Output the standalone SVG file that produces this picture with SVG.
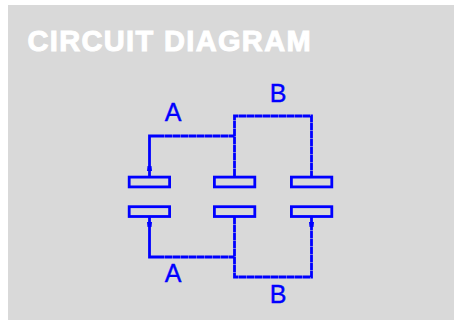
<svg xmlns="http://www.w3.org/2000/svg" width="454" height="320" viewBox="0 0 454 320">
<style>
.t{font-family:"Liberation Sans",Arial,sans-serif}
.title{font-size:29px;font-weight:700;fill:#fff;stroke:#fff;stroke-width:1;letter-spacing:1.350px}
.lab{font-size:25px;fill:#0000ff;stroke:#0000ff;stroke-width:.4;text-anchor:middle}
.p{fill:none;stroke:#0000ff;stroke-width:2.800}
.w{fill:none;stroke:#0000ff;stroke-width:2.800}
.d{fill:none;stroke:#0000ff;stroke-width:2.800;stroke-dasharray:7.600 .4}
.k{fill:#0000ff}
</style>
<rect x="0" y="0" width="454" height="320" fill="#fff"/>
<rect x="8" y="5" width="446" height="315" fill="#d9d9d9"/>
<text class="t title" x="27.500" y="51">CIRCUIT DIAGRAM</text>
<g id="connectors">
<path class="w" d="M149.500 176V136H157"/>
<path class="d" d="M157 136H234.500"/>
<path class="d" d="M234.500 176V116H311.500V176"/>
<path class="w" d="M149.500 217V257H157"/>
<path class="d" d="M157 257H234.500"/>
<path class="d" d="M234.500 217V277H311.500V217"/>
<path class="k" d="M147.500 166h4l.5 5h-5zM147.500 227h4l.5-5h-5zM309.500 227h4l.5-5h-5z"/>
</g>
<g id="cap-a-top"><rect class="p" x="129.200" y="177.100" width="40.400" height="9.800"/></g>
<g id="cap-a-bottom"><rect class="p" x="129.200" y="206.700" width="40.400" height="9.800"/></g>
<g id="cap-b-top"><rect class="p" x="214.400" y="177.100" width="40.400" height="9.800"/></g>
<g id="cap-b-bottom"><rect class="p" x="214.400" y="206.700" width="40.400" height="9.800"/></g>
<g id="cap-c-top"><rect class="p" x="291.400" y="177.100" width="40.400" height="9.800"/></g>
<g id="cap-c-bottom"><rect class="p" x="291.400" y="206.700" width="40.400" height="9.800"/></g>
<g id="labels">
<text class="t lab" x="173" y="121">A</text>
<text class="t lab" x="278" y="102">B</text>
<text class="t lab" x="173" y="282">A</text>
<text class="t lab" x="278" y="303">B</text>
</g>
</svg>
